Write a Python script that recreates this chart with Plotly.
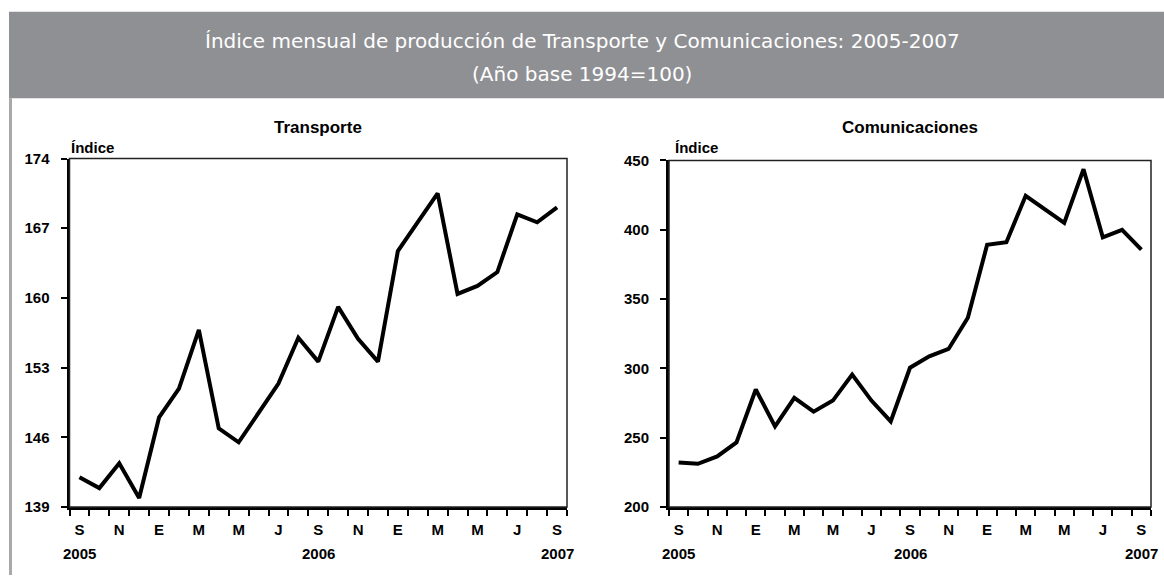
import plotly.graph_objects as go

# ---- data ----
months = ["Sep 2005", "Oct 2005", "Nov 2005", "Dic 2005", "Ene 2006", "Feb 2006", "Mar 2006",
          "Abr 2006", "May 2006", "Jun 2006", "Jul 2006", "Ago 2006", "Sep 2006", "Oct 2006",
          "Nov 2006", "Dic 2006", "Ene 2007", "Feb 2007", "Mar 2007", "Abr 2007", "May 2007",
          "Jun 2007", "Jul 2007", "Ago 2007", "Sep 2007"]
transporte = [142.0, 140.9, 143.4, 139.9, 148.0, 150.9, 156.8, 146.9, 145.5, 148.5, 151.4, 156.0,
              153.6, 159.1, 155.9, 153.6, 164.7, 167.6, 170.5, 160.4, 161.2, 162.6, 168.4, 167.6, 169.1]
comunicaciones = [232.1, 231.2, 236.5, 246.6, 284.8, 258.2, 278.7, 268.8, 276.8, 295.6, 276.8, 261.8,
                  300.5, 308.7, 314.0, 336.5, 389.2, 391.0, 424.5, 415.0, 404.9, 443.7, 394.5, 400.0, 385.6]
tick_pos = [0, 2, 4, 6, 8, 10, 12, 14, 16, 18, 20, 22, 24]
tick_text = ["S", "N", "E", "M", "M", "J", "S", "N", "E", "M", "M", "J", "S"]
year_pos = [0, 12, 24]
year_text = ["2005", "2006", "2007"]
ticks_transporte = [139, 146, 153, 160, 167, 174]
ticks_comunic = [200, 250, 300, 350, 400, 450]

W, H = 1164, 583
FONT = "Liberation Sans, Arial, sans-serif"

def px(x):
    return x / W

def py(y):
    return 1 - y / H

idx = list(range(len(months)))

fig = go.Figure()
fig.add_trace(go.Scatter(x=idx, y=transporte, mode="lines", text=months,
                         line=dict(color="black", width=4), xaxis="x", yaxis="y",
                         showlegend=False))
fig.add_trace(go.Scatter(x=idx, y=comunicaciones, mode="lines", text=months,
                         line=dict(color="black", width=4), xaxis="x2", yaxis="y2",
                         showlegend=False))

tickfont = dict(family=FONT, size=15, color="black", weight="bold")
boundaries = [i - 0.5 for i in range(len(months) + 1)]

def xaxis(domain, anchor):
    return dict(domain=domain, anchor=anchor, range=[-0.5, len(months) - 0.5],
                tickmode="array", tickvals=tick_pos, ticktext=tick_text, ticks="",
                showline=True, linewidth=3, linecolor="black", showgrid=False, zeroline=False,
                tickfont=tickfont, ticklabelstandoff=7,
                minor=dict(tickmode="array", tickvals=boundaries, ticks="outside",
                           ticklen=6, tickwidth=1.5, tickcolor="black", showgrid=False))

def yaxis(domain, anchor, rng, tv):
    return dict(domain=domain, anchor=anchor, range=rng, tickmode="array", tickvals=tv,
                ticks="outside", ticklen=6, tickwidth=2, tickcolor="black",
                showline=True, linewidth=3, linecolor="black", showgrid=False, zeroline=False,
                tickfont=tickfont, ticklabelstandoff=8)

L1, R1, T1, B1 = 69.5, 567, 154, 513
L2, R2, T2, B2 = 669, 1151, 156, 513

fig.update_layout(
    width=W, height=H, margin=dict(l=0, r=0, t=0, b=0),
    paper_bgcolor="white", plot_bgcolor="white",
    xaxis=xaxis([px(L1), px(R1)], "y"),
    yaxis=yaxis([py(B1), py(T1)], "x", [139, 174], ticks_transporte),
    xaxis2=xaxis([px(L2), px(R2)], "y2"),
    yaxis2=yaxis([py(B2), py(T2)], "x2", [200, 450], ticks_comunic),
)

BAND_TOP, BAND_BOT = 3, 92
shapes = [
    # title band
    dict(type="rect", xref="paper", yref="paper", x0=px(9), x1=1, y0=py(BAND_BOT), y1=py(BAND_TOP),
         fillcolor="#8f9094", line=dict(width=0), layer="below"),
    dict(type="line", xref="paper", yref="paper", x0=px(9), x1=1, y0=py(BAND_TOP - 0.5),
         y1=py(BAND_TOP - 0.5), line=dict(color="#e2e2e2", width=1)),
    # left frame line
    dict(type="line", xref="paper", yref="paper", x0=px(10.5), x1=px(10.5), y0=0, y1=py(BAND_BOT),
         line=dict(color="#a9a9a9", width=3)),
    # plot boxes (thin top/right)
    dict(type="rect", xref="x domain", yref="y domain", x0=0, x1=1, y0=0, y1=1,
         line=dict(color="#222222", width=1.5)),
    dict(type="rect", xref="x2 domain", yref="y2 domain", x0=0, x1=1, y0=0, y1=1,
         line=dict(color="#222222", width=1.5)),
]
fig.update_layout(shapes=shapes)

ann = []
title_font = dict(family="DejaVu Sans, sans-serif", size=20, color="white")
ann.append(dict(text="Índice mensual de producción de Transporte y Comunicaciones: 2005-2007",
                x=0.5, y=py(33), xref="paper", yref="paper", showarrow=False,
                xanchor="center", yanchor="middle", font=title_font))
ann.append(dict(text="(Año base 1994=100)", x=0.5, y=py(67), xref="paper", yref="paper",
                showarrow=False, xanchor="center", yanchor="middle", font=title_font))

sub_font = dict(family=FONT, size=17, color="black", weight="bold")
ann.append(dict(text="Transporte", x=px((L1 + R1) / 2), y=py(122), xref="paper", yref="paper",
                showarrow=False, xanchor="center", yanchor="middle", font=sub_font))
ann.append(dict(text="Comunicaciones", x=px((L2 + R2) / 2), y=py(122), xref="paper", yref="paper",
                showarrow=False, xanchor="center", yanchor="middle", font=sub_font))

ind_font = dict(family=FONT, size=15, color="black", weight="bold")
ann.append(dict(text="Índice", x=px(69), y=py(143), xref="paper", yref="paper",
                showarrow=False, xanchor="left", yanchor="middle", font=ind_font))
ann.append(dict(text="Índice", x=px(673), y=py(143), xref="paper", yref="paper",
                showarrow=False, xanchor="left", yanchor="middle", font=ind_font))

for xa in ["x", "x2"]:
    for p, t in zip(year_pos, year_text):
        ann.append(dict(text=t, x=p, y=py(561), xref=xa, yref="paper", showarrow=False,
                        xanchor="center", yanchor="middle", font=tickfont))

fig.update_layout(annotations=ann)

fig.write_html("out.html", config={"displayModeBar": False},
               post_script="document.body.style.margin='0';document.body.style.overflow='hidden';")
